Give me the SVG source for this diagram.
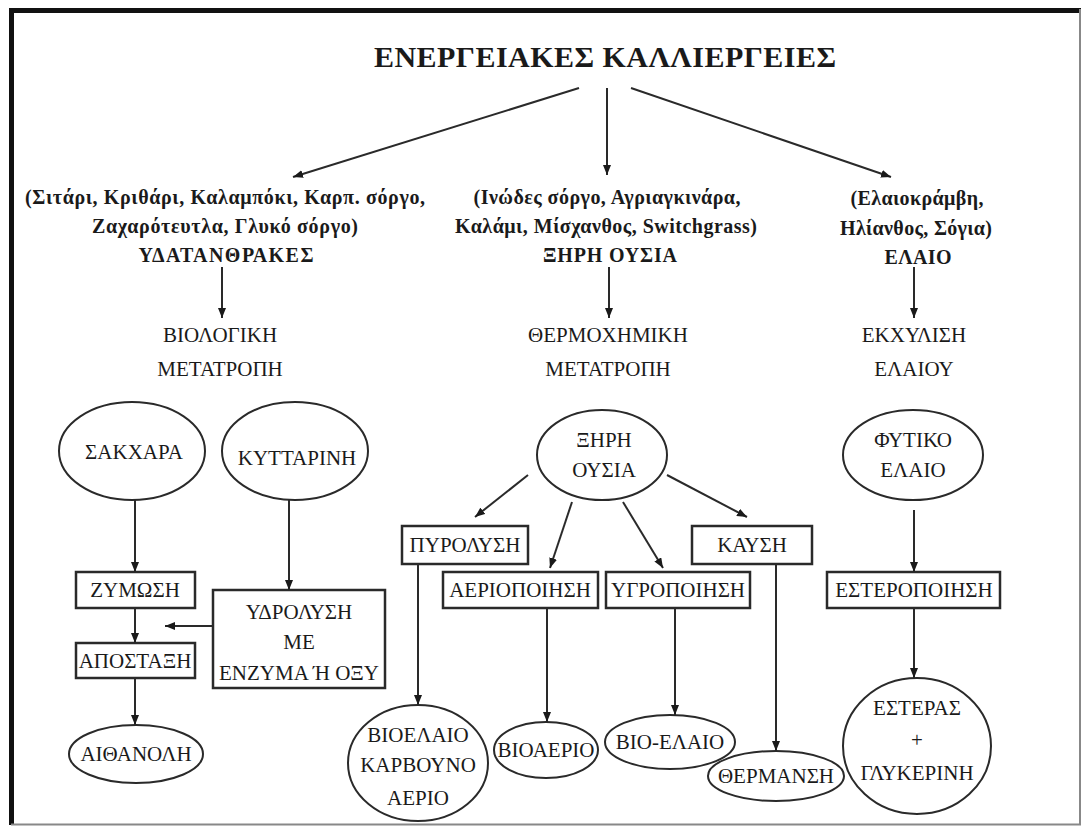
<svg xmlns="http://www.w3.org/2000/svg" width="1083" height="827" viewBox="0 0 1083 827">
<style>
text{font-family:"Liberation Serif","DejaVu Serif",serif;fill:#1a1a1a;text-anchor:middle}
.t{font-size:30px;font-weight:bold}
.h{font-size:20px;font-weight:bold}
.n{font-size:21px}
.s{fill:none;stroke:#2a2a2a;stroke-width:2}
.b{fill:none;stroke:#2a2a2a;stroke-width:2.5}
.c{fill:none;stroke:#2a2a2a;stroke-width:2;marker-end:url(#ah)}
</style>
<defs>
<marker id="ah" markerUnits="userSpaceOnUse" markerWidth="10" markerHeight="8" refX="10" refY="4" orient="auto">
<path d="M0,0 L10,4 L0,8 z" fill="#1a1a1a"/>
</marker>
</defs>
<rect width="1083" height="827" fill="#fff"/>
<g id="frame">
<line x1="9" y1="10.5" x2="1081" y2="10.5" stroke="#111" stroke-width="5"/>
<line x1="11.5" y1="8" x2="11.5" y2="825" stroke="#111" stroke-width="5"/>
<line x1="1080" y1="9" x2="1080" y2="825" stroke="#888" stroke-width="2"/>
<line x1="11" y1="824.5" x2="1081" y2="824.5" stroke="#888" stroke-width="2"/>
</g>
<g id="title"><text class="t" x="605" y="67" textLength="462">ΕΝΕΡΓΕΙΑΚΕΣ ΚΑΛΛΙΕΡΓΕΙΕΣ</text></g>
<g id="carbs">
<text class="h" x="225" y="204" textLength="400">(Σιτάρι, Κριθάρι, Καλαμπόκι, Καρπ. σόργο,</text>
<text class="h" x="225" y="233" textLength="266">Ζαχαρότευτλα, Γλυκό σόργο)</text>
<text class="h" x="226" y="262" textLength="175">ΥΔΑΤΑΝΘΡΑΚΕΣ</text>
</g>
<g id="drymatter">
<text class="h" x="607" y="204" textLength="267">(Ινώδες σόργο, Αγριαγκινάρα,</text>
<text class="h" x="606" y="233" textLength="302">Καλάμι, Μίσχανθος, Switchgrass)</text>
<text class="h" x="610" y="262" textLength="134">ΞΗΡΗ ΟΥΣΙΑ</text>
</g>
<g id="oil">
<text class="h" x="917" y="205" textLength="133">(Ελαιοκράμβη,</text>
<text class="h" x="916" y="235" textLength="152">Ηλίανθος, Σόγια)</text>
<text class="h" x="918" y="264" textLength="67">ΕΛΑΙΟ</text>
</g>
<g id="bio-conv"><text class="n" x="220" y="342">ΒΙΟΛΟΓΙΚΗ</text><text class="n" x="220" y="376">ΜΕΤΑΤΡΟΠΗ</text></g>
<g id="thermo-conv"><text class="n" x="608" y="342">ΘΕΡΜΟΧΗΜΙΚΗ</text><text class="n" x="608" y="376">ΜΕΤΑΤΡΟΠΗ</text></g>
<g id="extraction"><text class="n" x="914" y="342">ΕΚΧΥΛΙΣΗ</text><text class="n" x="914" y="376">ΕΛΑΙΟΥ</text></g>
<g id="sugars"><ellipse class="s" cx="132" cy="451" rx="73" ry="49"/><text class="n" x="134" y="459">ΣΑΚΧΑΡΑ</text></g>
<g id="cellulose"><ellipse class="s" cx="295" cy="451" rx="73" ry="49"/><text class="n" x="297" y="465">ΚΥΤΤΑΡΙΝΗ</text></g>
<g id="fermentation"><rect class="b" x="76" y="572" width="119" height="36"/><text class="n" x="135" y="597">ΖΥΜΩΣΗ</text></g>
<g id="distillation"><rect class="b" x="76" y="643" width="119" height="35"/><text class="n" x="135" y="668">ΑΠΟΣΤΑΞΗ</text></g>
<g id="ethanol"><ellipse class="s" cx="136" cy="754" rx="67" ry="29"/><text class="n" x="136" y="761">ΑΙΘΑΝΟΛΗ</text></g>
<g id="hydrolysis"><rect class="b" x="213" y="590" width="172" height="98"/>
<text class="n" x="299" y="619">ΥΔΡΟΛΥΣΗ</text><text class="n" x="299" y="649">ΜΕ</text><text class="n" x="299" y="680">ΕΝΖΥΜΑ Ή ΟΞΥ</text></g>
<g id="dry-matter-node"><ellipse class="s" cx="602" cy="455" rx="65" ry="45"/><text class="n" x="604" y="447">ΞΗΡΗ</text><text class="n" x="604" y="477">ΟΥΣΙΑ</text></g>
<g id="pyrolysis"><rect class="b" x="402" y="526" width="126" height="38"/><text class="n" x="465" y="552">ΠΥΡΟΛΥΣΗ</text></g>
<g id="gasification"><rect class="b" x="443" y="572" width="155" height="36"/><text class="n" x="520" y="597">ΑΕΡΙΟΠΟΙΗΣΗ</text></g>
<g id="liquefaction"><rect class="b" x="606" y="572" width="144" height="36"/><text class="n" x="678" y="597">ΥΓΡΟΠΟΙΗΣΗ</text></g>
<g id="combustion"><rect class="b" x="692" y="526" width="120" height="38"/><text class="n" x="752" y="552">ΚΑΥΣΗ</text></g>
<g id="biooil-char-gas"><ellipse class="s" cx="418" cy="763" rx="70" ry="58"/>
<text class="n" x="418" y="742">ΒΙΟΕΛΑΙΟ</text><text class="n" x="418" y="772">ΚΑΡΒΟΥΝΟ</text><text class="n" x="418" y="805">ΑΕΡΙΟ</text></g>
<g id="biogas"><ellipse class="s" cx="546" cy="750" rx="52" ry="28"/><text class="n" x="546" y="757">ΒΙΟΑΕΡΙΟ</text></g>
<g id="bio-oil"><ellipse class="s" cx="670" cy="742" rx="65" ry="27"/><text class="n" x="670" y="749">ΒΙΟ-ΕΛΑΙΟ</text></g>
<g id="heating"><ellipse class="s" cx="776" cy="776" rx="68" ry="25"/><text class="n" x="776" y="783">ΘΕΡΜΑΝΣΗ</text></g>
<g id="veg-oil"><ellipse class="s" cx="913" cy="455" rx="70" ry="45"/><text class="n" x="913" y="447">ΦΥΤΙΚΟ</text><text class="n" x="913" y="477">ΕΛΑΙΟ</text></g>
<g id="esterification"><rect class="b" x="827" y="572" width="173" height="36"/><text class="n" x="914" y="597">ΕΣΤΕΡΟΠΟΙΗΣΗ</text></g>
<g id="esters"><ellipse class="s" cx="917" cy="746" rx="74" ry="68"/>
<text class="n" x="917" y="715">ΕΣΤΕΡΑΣ</text><text class="n" x="917" y="747">+</text><text class="n" x="917" y="780">ΓΛΥΚΕΡΙΝΗ</text></g>
<g id="connectors">
<line class="c" x1="579" y1="88" x2="293" y2="177"/>
<line class="c" x1="607" y1="88" x2="607" y2="175"/>
<line class="c" x1="631" y1="88" x2="891" y2="177"/>
<line class="c" x1="222" y1="267" x2="222" y2="318"/>
<line class="c" x1="609" y1="267" x2="609" y2="318"/>
<line class="c" x1="914" y1="267" x2="914" y2="318"/>
<line class="c" x1="135" y1="500" x2="135" y2="572"/>
<line class="c" x1="289" y1="500" x2="289" y2="590"/>
<line class="c" x1="135" y1="608" x2="135" y2="643"/>
<line class="c" x1="213" y1="626" x2="165" y2="626"/>
<line class="c" x1="135" y1="678" x2="135" y2="725"/>
<line class="c" x1="528" y1="475" x2="475" y2="517"/>
<line class="c" x1="572" y1="502" x2="550" y2="568"/>
<line class="c" x1="623" y1="502" x2="663" y2="568"/>
<line class="c" x1="667" y1="475" x2="747" y2="517"/>
<line class="c" x1="418" y1="564" x2="418" y2="705"/>
<line class="c" x1="547" y1="608" x2="547" y2="722"/>
<line class="c" x1="675" y1="608" x2="675" y2="715"/>
<line class="c" x1="776" y1="564" x2="776" y2="751"/>
<line class="c" x1="914" y1="510" x2="914" y2="572"/>
<line class="c" x1="914" y1="608" x2="914" y2="678"/>
</g>
</svg>
